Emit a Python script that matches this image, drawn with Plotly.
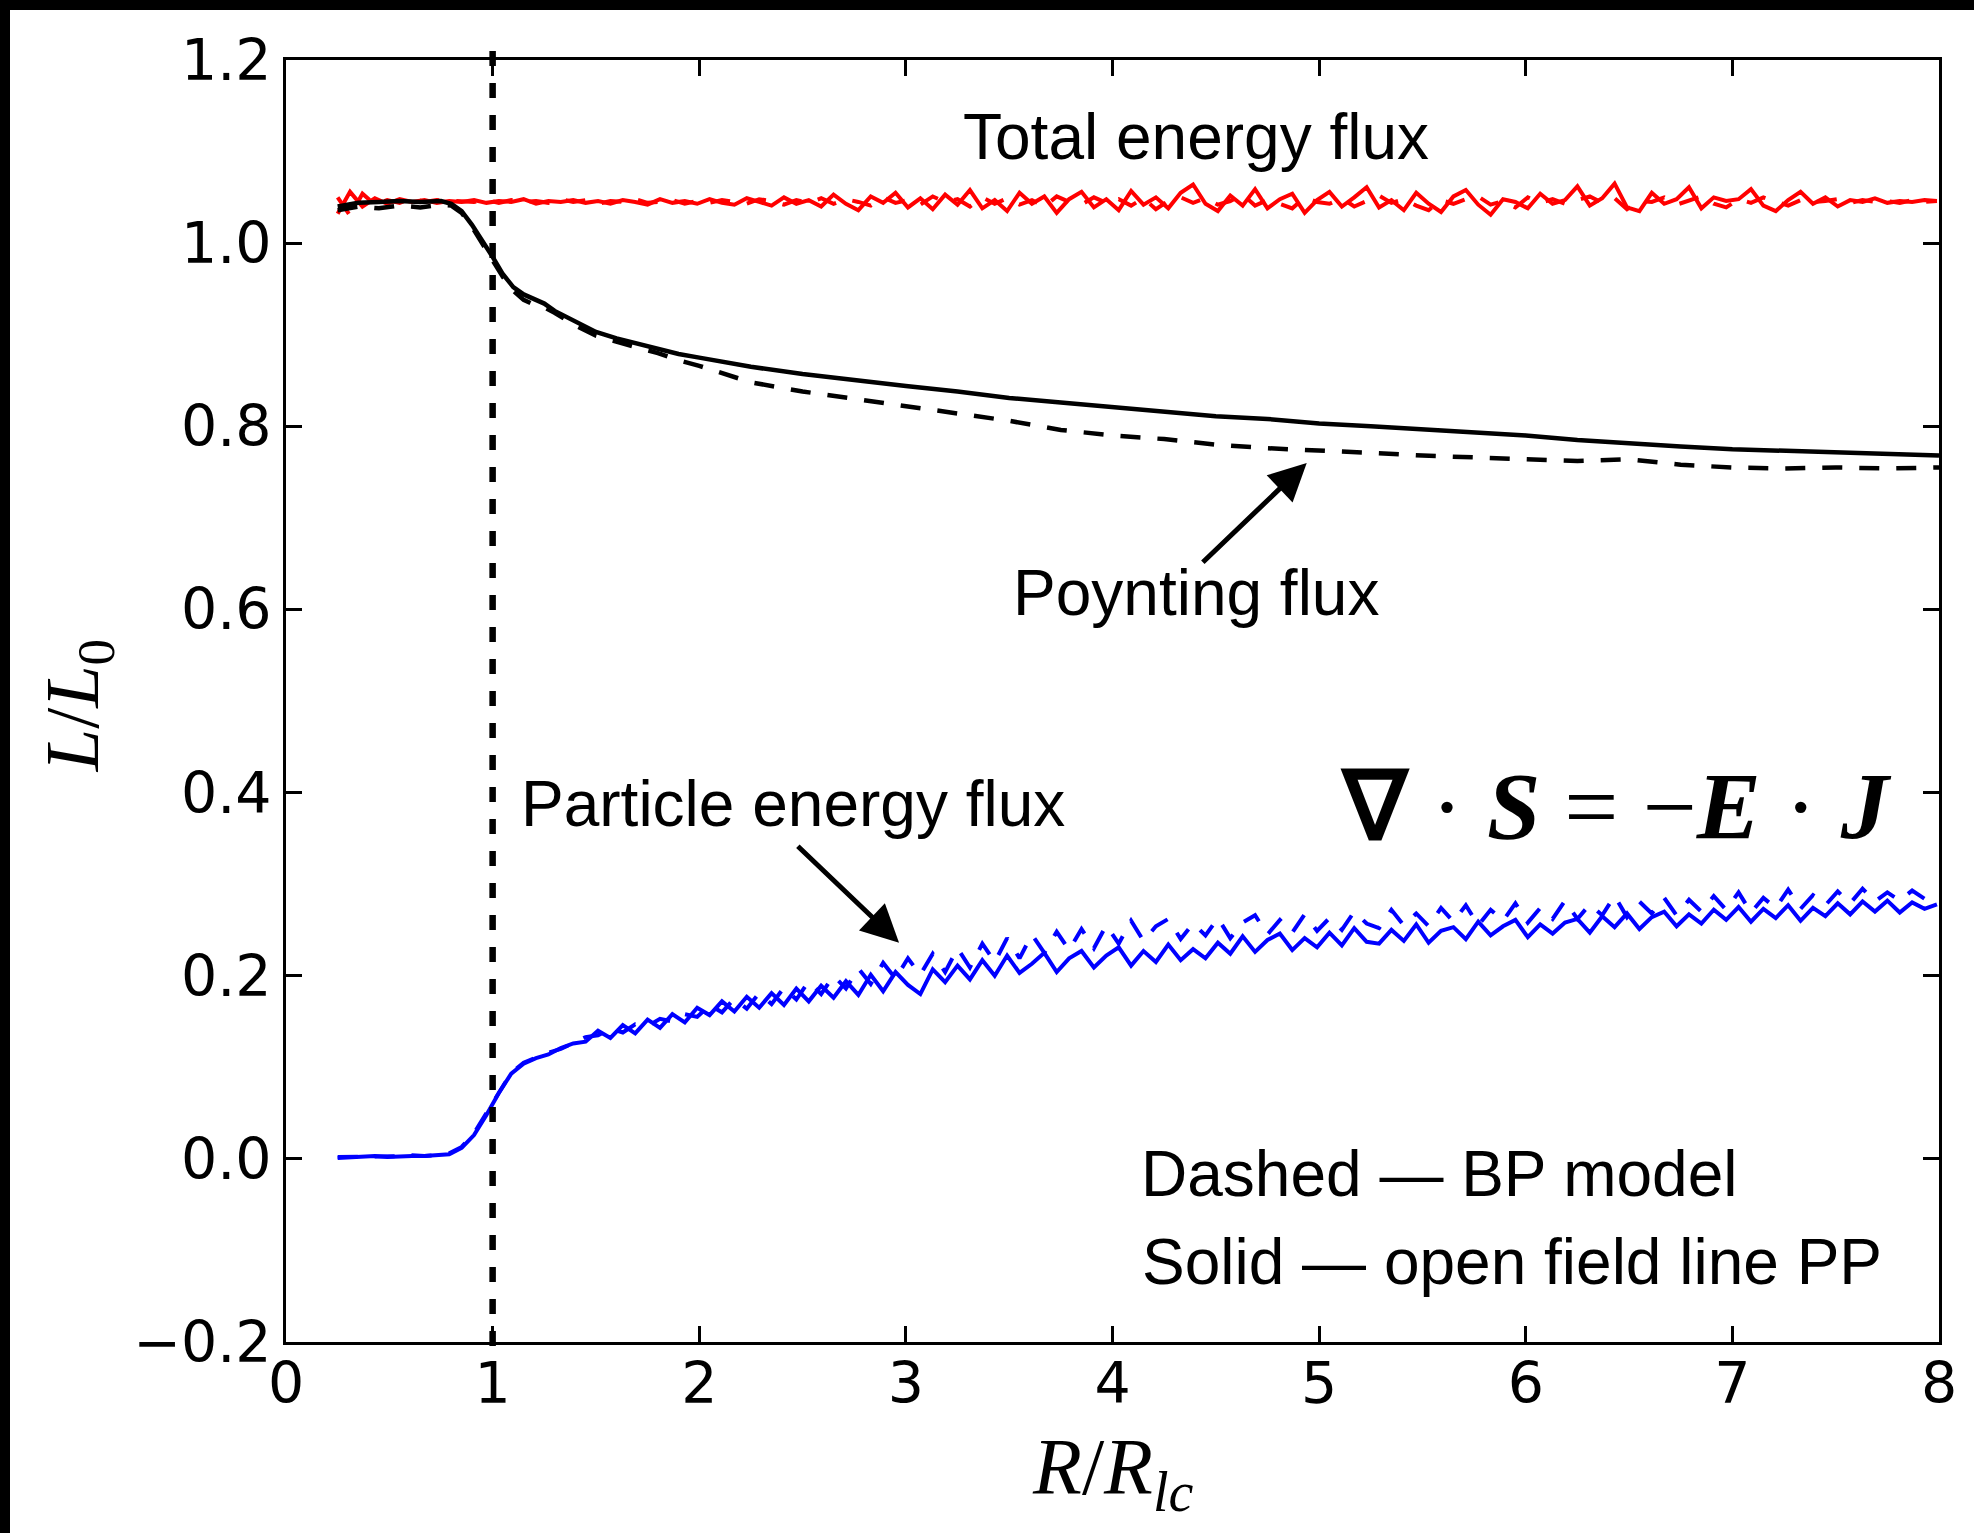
import plotly.graph_objects as go

# Radial grid (R / R_lc) shared by the noisy flux series
R = [
    0.25, 0.31, 0.37, 0.43, 0.49, 0.55, 0.61, 0.67, 0.73, 0.79,
    0.85, 0.91, 0.97, 1.03, 1.09, 1.15, 1.21, 1.27, 1.33, 1.39,
    1.45, 1.51, 1.57, 1.63, 1.69, 1.75, 1.81, 1.87, 1.93, 1.99,
    2.05, 2.11, 2.17, 2.23, 2.29, 2.35, 2.41, 2.47, 2.53, 2.59,
    2.65, 2.71, 2.77, 2.83, 2.89, 2.95, 3.01, 3.07, 3.13, 3.19,
    3.25, 3.31, 3.37, 3.43, 3.49, 3.55, 3.61, 3.67, 3.73, 3.79,
    3.85, 3.91, 3.97, 4.03, 4.09, 4.15, 4.21, 4.27, 4.33, 4.39,
    4.45, 4.51, 4.57, 4.63, 4.69, 4.75, 4.81, 4.87, 4.93, 4.99,
    5.05, 5.11, 5.17, 5.23, 5.29, 5.35, 5.41, 5.47, 5.53, 5.59,
    5.65, 5.71, 5.77, 5.83, 5.89, 5.95, 6.01, 6.07, 6.13, 6.19,
    6.25, 6.31, 6.37, 6.43, 6.49, 6.55, 6.61, 6.67, 6.73, 6.79,
    6.85, 6.91, 6.97, 7.03, 7.09, 7.15, 7.21, 7.27, 7.33, 7.39,
    7.45, 7.51, 7.57, 7.63, 7.69, 7.75, 7.81, 7.87, 7.93, 7.99,
]

# Total energy flux, open field line PP (solid) and BP model (dashed)
total_pp = [
    1.032, 1.056, 1.040, 1.049, 1.043, 1.048, 1.045, 1.047, 1.044, 1.046,
    1.045, 1.047, 1.044, 1.046, 1.045, 1.048, 1.043, 1.046, 1.045, 1.047,
    1.044, 1.046, 1.043, 1.047, 1.045, 1.042, 1.048, 1.044, 1.046, 1.043,
    1.048, 1.044, 1.042, 1.049, 1.045, 1.041, 1.050, 1.043, 1.047, 1.040,
    1.053, 1.043, 1.036, 1.051, 1.044, 1.055, 1.039, 1.049, 1.037, 1.053,
    1.042, 1.058, 1.038, 1.047, 1.035, 1.055, 1.043, 1.051, 1.033, 1.048,
    1.056, 1.039, 1.048, 1.036, 1.057, 1.042, 1.050, 1.038, 1.055, 1.064,
    1.043, 1.035, 1.052, 1.041, 1.059, 1.038, 1.048, 1.054, 1.033, 1.047,
    1.056, 1.040, 1.050, 1.061, 1.039, 1.047, 1.036, 1.055, 1.043, 1.034,
    1.051, 1.058, 1.042, 1.031, 1.048, 1.045, 1.038, 1.054, 1.043, 1.047,
    1.062, 1.041, 1.049, 1.065, 1.039, 1.035, 1.055, 1.043, 1.048, 1.061,
    1.038, 1.050, 1.046, 1.048, 1.059, 1.041, 1.035, 1.047, 1.056, 1.043,
    1.050, 1.040, 1.047, 1.045, 1.049, 1.044, 1.046, 1.045, 1.047, 1.046,
]
total_bp = [
    1.050, 1.030, 1.054, 1.042, 1.047, 1.044, 1.049, 1.045, 1.047, 1.046,
    1.046, 1.045, 1.047, 1.044, 1.047, 1.045, 1.046, 1.044, 1.048, 1.045,
    1.047, 1.043, 1.046, 1.045, 1.048, 1.044, 1.045, 1.047, 1.043, 1.046,
    1.044, 1.047, 1.045, 1.043, 1.048, 1.046, 1.042, 1.047, 1.044, 1.049,
    1.043, 1.048, 1.045, 1.041, 1.050, 1.044, 1.047, 1.042, 1.051, 1.045,
    1.048, 1.040, 1.050, 1.043, 1.049, 1.042, 1.047, 1.040, 1.051, 1.045,
    1.042, 1.050, 1.044, 1.048, 1.041, 1.049, 1.037, 1.046, 1.050, 1.044,
    1.049, 1.042, 1.046, 1.053, 1.041, 1.047, 1.043, 1.038, 1.050, 1.045,
    1.043, 1.049, 1.040, 1.046, 1.052, 1.044, 1.048, 1.041, 1.036, 1.047,
    1.043, 1.048, 1.051, 1.042, 1.046, 1.039, 1.050, 1.044, 1.048, 1.043,
    1.047, 1.051, 1.044, 1.049, 1.037, 1.046, 1.045, 1.050, 1.042, 1.047,
    1.051, 1.043, 1.039, 1.048, 1.044, 1.050, 1.046, 1.041, 1.047, 1.045,
    1.046, 1.048, 1.044, 1.047, 1.045, 1.046, 1.044, 1.047, 1.045, 1.046,
]

# Particle energy flux, PP (solid) and BP (dashed)
particle_pp = [
    0.001, 0.002, 0.002, 0.003, 0.002, 0.003, 0.003, 0.003, 0.004, 0.005,
    0.012, 0.026, 0.048, 0.072, 0.093, 0.104, 0.110, 0.114, 0.121, 0.126,
    0.128, 0.140, 0.132, 0.146, 0.137, 0.152, 0.143, 0.158, 0.149, 0.165,
    0.157, 0.172, 0.161, 0.177, 0.165, 0.181, 0.168, 0.186, 0.172, 0.189,
    0.176, 0.194, 0.179, 0.201, 0.183, 0.204, 0.190, 0.180, 0.207, 0.193,
    0.211, 0.196, 0.217, 0.200, 0.222, 0.203, 0.213, 0.225, 0.204, 0.219,
    0.227, 0.209, 0.222, 0.231, 0.211, 0.227, 0.215, 0.234, 0.217, 0.229,
    0.219, 0.236, 0.224, 0.243, 0.226, 0.239, 0.246, 0.228, 0.241, 0.231,
    0.247, 0.233, 0.252, 0.237, 0.235, 0.250, 0.238, 0.256, 0.236, 0.249,
    0.253, 0.240, 0.259, 0.244, 0.254, 0.261, 0.242, 0.256, 0.246, 0.258,
    0.262, 0.247, 0.265, 0.253, 0.268, 0.251, 0.264, 0.270, 0.254, 0.267,
    0.257, 0.272, 0.261, 0.275, 0.259, 0.273, 0.263, 0.277, 0.260, 0.274,
    0.265, 0.279, 0.267, 0.281, 0.270, 0.282, 0.269, 0.280, 0.273, 0.278,
]
particle_bp = [
    0.002, 0.002, 0.003, 0.002, 0.003, 0.003, 0.004, 0.003, 0.004, 0.006,
    0.013, 0.028, 0.050, 0.073, 0.094, 0.105, 0.111, 0.116, 0.120, 0.127,
    0.133, 0.135, 0.142, 0.138, 0.147, 0.145, 0.153, 0.150, 0.158, 0.155,
    0.168, 0.160, 0.175, 0.164, 0.181, 0.169, 0.187, 0.174, 0.194, 0.180,
    0.200, 0.186, 0.208, 0.191, 0.214, 0.197, 0.219, 0.201, 0.224, 0.204,
    0.230, 0.209, 0.235, 0.215, 0.241, 0.219, 0.245, 0.225, 0.248, 0.228,
    0.251, 0.230, 0.255, 0.235, 0.260, 0.238, 0.254, 0.262, 0.240, 0.257,
    0.244, 0.263, 0.241, 0.258, 0.266, 0.245, 0.261, 0.247, 0.267, 0.249,
    0.263, 0.250, 0.270, 0.257, 0.252, 0.272, 0.255, 0.268, 0.254, 0.274,
    0.259, 0.277, 0.255, 0.272, 0.260, 0.279, 0.258, 0.274, 0.262, 0.282,
    0.262, 0.278, 0.266, 0.287, 0.264, 0.281, 0.268, 0.285, 0.266, 0.283,
    0.270, 0.287, 0.272, 0.291, 0.269, 0.285, 0.274, 0.294, 0.273, 0.288,
    0.277, 0.292, 0.279, 0.295, 0.281, 0.291, 0.282, 0.293, 0.284, 0.290,
]

# Poynting flux on its own (smoother) grid
RP = [
    0.25, 0.35, 0.45, 0.55, 0.65, 0.75, 0.80, 0.85, 0.90, 0.95,
    1.00, 1.05, 1.10, 1.15, 1.20, 1.25, 1.30, 1.40, 1.50, 1.60,
    1.70, 1.80, 1.90, 2.00, 2.25, 2.50, 2.75, 3.00, 3.25, 3.50,
    3.75, 4.00, 4.25, 4.50, 4.75, 5.00, 5.25, 5.50, 5.75, 6.00,
    6.25, 6.50, 6.75, 7.00, 7.25, 7.50, 7.75, 8.00,
]
poynting_pp = [
    1.040, 1.044, 1.045, 1.046, 1.045, 1.046, 1.043, 1.035, 1.020, 1.003,
    0.985, 0.966, 0.952, 0.944, 0.939, 0.934, 0.926, 0.914, 0.903, 0.896,
    0.890, 0.884, 0.879, 0.875, 0.865, 0.857, 0.850, 0.844, 0.838, 0.831,
    0.826, 0.821, 0.816, 0.811, 0.808, 0.803, 0.800, 0.797, 0.793, 0.790,
    0.785, 0.781, 0.778, 0.775, 0.773, 0.772, 0.770, 0.768,
]
poynting_bp = [
    1.036, 1.040, 1.038, 1.041, 1.039, 1.042, 1.041, 1.033, 1.018, 1.000,
    0.982, 0.963, 0.948, 0.938, 0.933, 0.930, 0.924, 0.910, 0.899, 0.892,
    0.886, 0.880, 0.872, 0.866, 0.848, 0.838, 0.830, 0.821, 0.814, 0.806,
    0.796, 0.790, 0.786, 0.780, 0.776, 0.774, 0.771, 0.768, 0.766, 0.764,
    0.762, 0.764, 0.758, 0.755, 0.754, 0.755, 0.754, 0.755,
]

light_cylinder = 1.0

x_ticks = [0, 1, 2, 3, 4, 5, 6, 7, 8]
y_ticks = [-0.2, 0.0, 0.2, 0.4, 0.6, 0.8, 1.0, 1.2]
y_tick_text = ["\u22120.2", "0.0", "0.2", "0.4", "0.6", "0.8", "1.0", "1.2"]

W, H = 1974, 1533
ML, MR, MT, MB = 286, 35, 60, 191
PW, PH = W - ML - MR, H - MT - MB

DASH = "20px,17px"

fig = go.Figure()

def add_line(x, y, color, width, dash):
    fig.add_trace(go.Scatter(
        x=x, y=y, mode="lines",
        line=dict(color=color, width=width, dash=dash),
        showlegend=False, hoverinfo="skip",
    ))

add_line(R, total_bp, "#ff0000", 4, DASH)
add_line(R, total_pp, "#ff0000", 4, "solid")
add_line(RP, poynting_bp, "#000000", 4.5, DASH)
add_line(RP, poynting_pp, "#000000", 4.5, "solid")
add_line(R, particle_bp, "#0000ff", 4, DASH)
add_line(R, particle_pp, "#0000ff", 4, "solid")

shapes = [
    # light cylinder marker
    dict(type="line", xref="paper", yref="paper",
         x0=light_cylinder / 8, x1=light_cylinder / 8,
         y0=-4 / PH, y1=1 + 9 / PH,
         line=dict(color="black", width=6.5, dash="15px,17px")),
    # dark frame along the top and left edges
    dict(type="rect", xref="paper", yref="paper",
         x0=-0.3, x1=(10 - ML) / PW, y0=-0.3, y1=1.2,
         fillcolor="black", line=dict(width=0), layer="above"),
    dict(type="rect", xref="paper", yref="paper",
         x0=-0.3, x1=1.2, y0=(H - MB - 10) / PH, y1=1.2,
         fillcolor="black", line=dict(width=0), layer="above"),
]

sans = dict(family="Liberation Sans, Arial, sans-serif", size=64, color="black")
serif = "Liberation Serif, Times New Roman, serif"

annotations = [
    dict(x=4.405, y=1.116, xref="x", yref="y", text="Total energy flux",
         showarrow=False, font=sans),
    dict(x=4.405, y=0.618, xref="x", yref="y", text="Poynting flux",
         showarrow=False, font=sans),
    dict(x=2.452, y=0.388, xref="x", yref="y", text="Particle energy flux",
         showarrow=False, font=sans),
    dict(x=5.578, y=-0.016, xref="x", yref="y", text="Dashed \u2014 BP model",
         showarrow=False, font=sans),
    dict(x=5.934, y=-0.113, xref="x", yref="y",
         text="Solid \u2014 open field line PP", showarrow=False, font=sans),
    dict(x=6.437, y=0.385, xref="x", yref="y",
         text="<b>\u2207</b> \u00b7 <b><i>S</i></b> = \u2212<b><i>E</i></b> \u00b7 <b><i>J</i></b>",
         showarrow=False, font=dict(family=serif, size=96, color="black")),
    # arrows
    dict(x=4.94, y=0.760, ax=4.43, ay=0.650, xref="x", yref="y",
         axref="x", ayref="y", text="", showarrow=True, arrowhead=2,
         arrowsize=1.5, arrowwidth=5, arrowcolor="black", standoff=0),
    dict(x=2.967, y=0.236, ax=2.47, ay=0.343, xref="x", yref="y",
         axref="x", ayref="y", text="", showarrow=True, arrowhead=2,
         arrowsize=1.5, arrowwidth=5, arrowcolor="black", standoff=0),
    # axis titles
    dict(x=0.5, y=-(1473 - (H - MB)) / PH, xref="paper", yref="paper",
         text="<i>R</i>/<i>R</i><sub><i>lc</i></sub>", showarrow=False,
         xanchor="center", yanchor="middle",
         font=dict(family=serif, size=80, color="black")),
    dict(x=(78 - ML) / PW, y=0.496, xref="paper", yref="paper",
         text="<i>L</i>/<i>L</i><sub>0</sub>", showarrow=False, textangle=-90,
         xanchor="center", yanchor="middle",
         font=dict(family=serif, size=76, color="black")),
]

tick_font = dict(family="DejaVu Sans, sans-serif", size=57, color="black")
axis_common = dict(
    showline=True, linewidth=3, linecolor="black", mirror="ticks",
    ticks="inside", ticklen=16, tickwidth=2.5, tickcolor="black",
    showgrid=False, zeroline=False, tickfont=tick_font,
)

fig.update_layout(
    width=W, height=H,
    margin=dict(l=ML, r=MR, t=MT, b=MB),
    paper_bgcolor="white", plot_bgcolor="white",
    xaxis=dict(range=[0, 8], tickvals=x_ticks,
               ticktext=[str(t) for t in x_ticks],
               ticklabelstandoff=-10, **axis_common),
    yaxis=dict(range=[-0.2, 1.2], tickvals=y_ticks, ticktext=y_tick_text,
               ticklabelstandoff=0, **axis_common),
    shapes=shapes,
    annotations=annotations,
)

fig.write_html("out.html", config={"displayModeBar": False})
